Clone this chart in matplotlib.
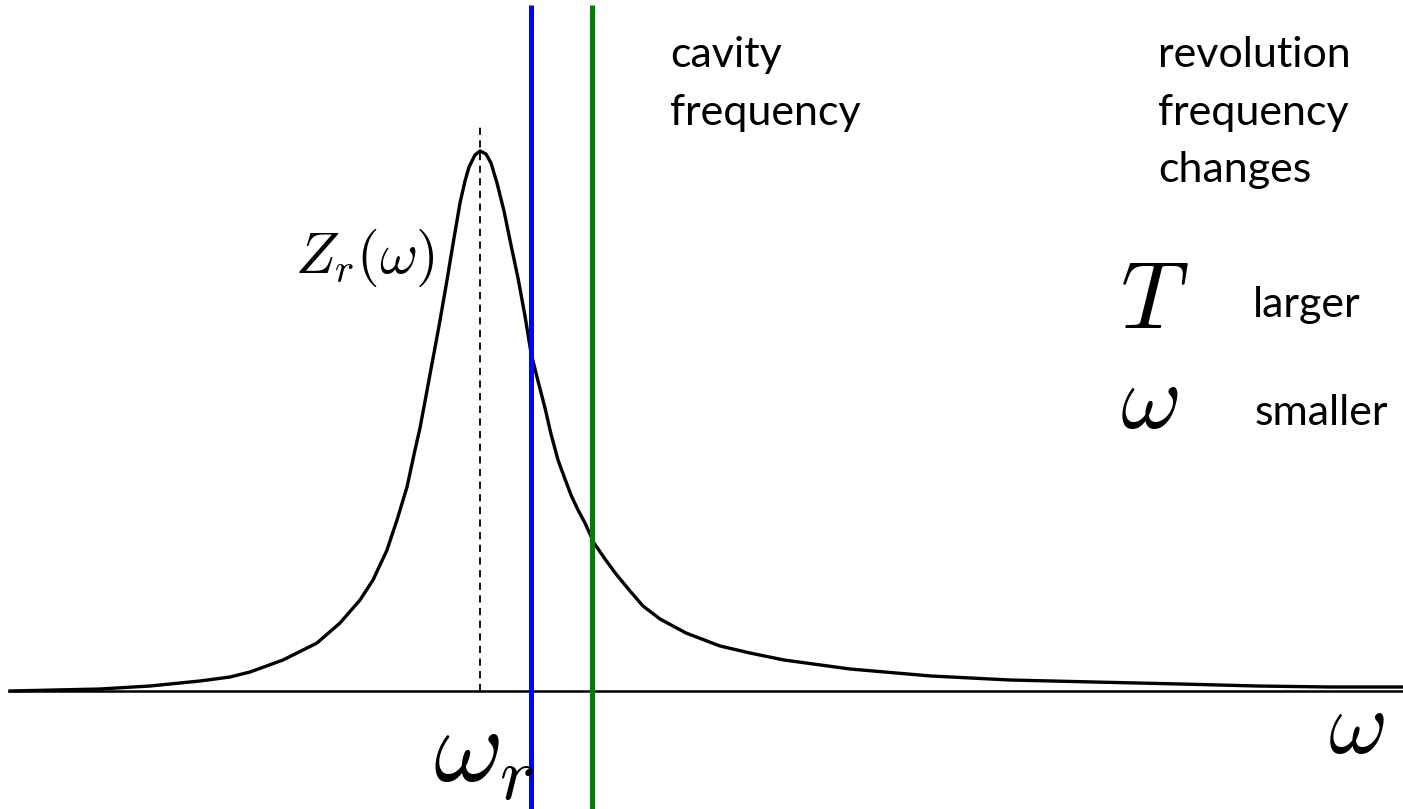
import matplotlib
matplotlib.use("Agg")
import matplotlib.pyplot as plt

plt.rcParams['mathtext.fontset'] = 'cm'

# Impedance curve Z_r(omega) (arbitrary units)
omega = [0.10, 1.00, 1.50, 2.00, 2.30, 2.50, 2.83, 3.17, 3.40, 3.60, 3.73,
         3.87, 3.97, 4.07, 4.15, 4.20, 4.26, 4.31, 4.39, 4.46,
         4.53, 4.60, 4.65, 4.69, 4.75, 4.80, 4.86, 4.91, 4.97, 5.04, 5.11,
         5.18, 5.25, 5.31, 5.38, 5.45, 5.51, 5.58, 5.65, 5.71, 5.78, 5.85,
         5.94, 6.05, 6.16, 6.30, 6.43, 6.60, 6.86, 7.20, 7.50, 7.84, 8.50,
         9.31, 10.10, 10.94, 11.80, 12.57, 13.30, 14.03]
Z = [0.00, 0.02, 0.05, 0.10, 0.14, 0.19, 0.31, 0.48, 0.68, 0.91, 1.11,
     1.41, 1.71, 2.04, 2.41, 2.63, 2.95, 3.22, 3.65, 4.05,
     4.47, 4.88, 5.10, 5.24, 5.36, 5.40, 5.37, 5.28, 5.08, 4.80, 4.46,
     4.13, 3.75, 3.38, 3.10, 2.83, 2.57, 2.31, 2.12, 1.96, 1.81, 1.68,
     1.48, 1.32, 1.17, 1.00, 0.85, 0.72, 0.58, 0.45, 0.38, 0.31, 0.22,
     0.15, 0.11, 0.09, 0.07, 0.05, 0.04, 0.04]

omega_r = 4.80          # resonance frequency (dashed)
omega_cavity = 5.31     # cavity frequency (blue)
omega_rev = 5.92        # revolution frequency harmonic (green)

fig = plt.figure(figsize=(14.03, 8.09), dpi=100)
ax = fig.add_axes([0, 0, 1, 1])
ax.set_xlim(0, 14.03)
ax.set_ylim(-1.18, 6.91)
ax.axis('off')

# baseline
ax.plot([0.08, 14.03], [0, 0], color='black', lw=1.8, solid_capstyle='butt')
# curve
ax.plot(omega, Z, color='black', lw=2.4, solid_joinstyle='round')
# dashed resonance line
ax.plot([omega_r, omega_r], [0, 5.66], color='black', lw=1.3, ls=(0, (4, 3)))
# cavity & revolution frequency lines
ax.plot([omega_cavity, omega_cavity], [-1.2, 6.86], color='#0000ff', lw=3.6,
        solid_capstyle='butt')
ax.plot([omega_rev, omega_rev], [-1.2, 6.86], color='#008000', lw=3.6,
        solid_capstyle='butt')

font = 'Lato'
fs = 31
ax.text(6.70, 6.24, 'cavity', family=font, fontsize=fs, ha='left', va='baseline')
ax.text(6.70, 5.66, 'frequency', family=font, fontsize=fs, ha='left', va='baseline')
ax.text(11.58, 6.24, 'revolution', family=font, fontsize=fs, ha='left', va='baseline')
ax.text(11.58, 5.66, 'frequency', family=font, fontsize=fs, ha='left', va='baseline')
ax.text(11.58, 5.09, 'changes', family=font, fontsize=fs, ha='left', va='baseline')
ax.text(12.53, 3.74, 'larger', family=font, fontsize=fs, ha='left', va='baseline')
ax.text(12.55, 2.66, 'smaller', family=font, fontsize=fs, ha='left', va='baseline')

ax.text(11.20, 3.63, r'$T$', fontsize=68, ha='left', va='baseline')
ax.text(11.20, 2.63, r'$\omega$', fontsize=67, ha='left', va='baseline')
ax.text(2.95, 4.18, r'$Z_r(\omega)$', fontsize=42, ha='left', va='baseline')
ax.text(4.33, -0.91, r'$\omega_r$', fontsize=77, ha='left', va='baseline')
ax.text(13.28, -0.62, r'$\omega$', fontsize=65, ha='left', va='baseline')

fig.savefig('out.png', dpi=100)
